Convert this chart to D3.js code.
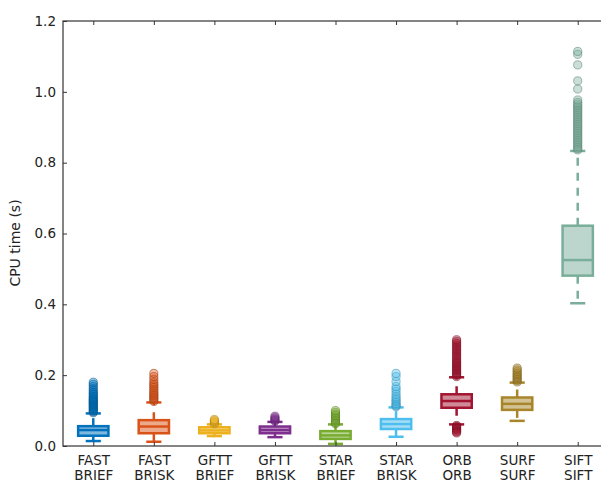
<!DOCTYPE html>
<html><head><meta charset="utf-8">
<script src="https://cdn.jsdelivr.net/npm/d3@7"></script>
<style>body{margin:0;background:#fff}svg{display:block}text{font-family:"DejaVu Sans",sans-serif}</style>
</head><body><svg id="c" width="601" height="483"></svg>
<script>
const categories = ["FAST\nBRIEF","FAST\nBRISK","GFTT\nBRIEF","GFTT\nBRISK","STAR\nBRIEF","STAR\nBRISK","ORB\nORB","SURF\nSURF","SIFT\nSIFT"];
const colors = ["#0072bd","#d95319","#edb120","#7e2f8e","#77ac30","#4dbeee","#a2142f","#a8852a","#7aae9b"];
const whiskerLow = [0.014,0.012,0.028,0.025,0.006,0.026,0.061,0.071,0.403];
const q1 =         [0.029,0.036,0.036,0.036,0.020,0.048,0.108,0.102,0.481];
const medians =    [0.045,0.055,0.044,0.045,0.030,0.062,0.127,0.119,0.525];
const q3 =         [0.056,0.073,0.053,0.055,0.042,0.076,0.146,0.137,0.622];
const whiskerHigh =[0.092,0.123,0.061,0.068,0.061,0.109,0.194,0.179,0.833];
const fliers = [
  [0.094,0.097,0.1,0.103,0.106,0.109,0.112,0.115,0.118,0.121,0.124,0.127,0.13,0.133,0.136,0.14,0.144,0.148,0.152,0.157,0.162,0.168,0.174,0.18],
  [0.126,0.13,0.134,0.138,0.142,0.146,0.15,0.155,0.16,0.165,0.17,0.175,0.18,0.188,0.196,0.205],
  [0.063,0.066,0.069,0.072,0.075],
  [0.07,0.073,0.076,0.08,0.084],
  [0.063,0.066,0.07,0.074,0.078,0.082,0.086,0.09,0.095,0.1],
  [0.111,0.114,0.116,0.12,0.125,0.129,0.134,0.139,0.146,0.154,0.161,0.168,0.182,0.196,0.205],
  [0.196,0.2,0.204,0.208,0.212,0.216,0.22,0.224,0.228,0.232,0.236,0.24,0.245,0.25,0.255,0.26,0.265,0.27,0.275,0.28,0.285,0.29,0.295,0.3,0.058,0.055,0.052,0.049,0.046,0.043,0.04,0.037],
  [0.181,0.185,0.189,0.193,0.197,0.201,0.205,0.21,0.215,0.22],
  [0.836,0.84,0.845,0.85,0.855,0.86,0.865,0.87,0.875,0.88,0.885,0.89,0.895,0.9,0.905,0.91,0.915,0.92,0.925,0.93,0.935,0.94,0.945,0.95,0.955,0.96,0.965,0.97,0.977,1.008,1.031,1.076,1.106,1.114]
];
const yTicks = [0.0,0.2,0.4,0.6,0.8,1.0,1.2];

const svg = d3.select("#c");
const L=63, R=608, T=21, B=446;
const x = d3.scalePoint().domain(categories).range([L,R]).padding(0.5);
const y = d3.scaleLinear().domain([0,1.2]).range([B,T]);
const bw = x.step()*0.5;

const g = svg.append("g");
categories.forEach((c,i)=>{
  const cx = x(c), col = colors[i];
  const dark = d3.color(col).darker(0.8).formatHex();
  const gg = g.append("g");
  [[q3[i],whiskerHigh[i]],[q1[i],whiskerLow[i]]].forEach(([a,b])=>{
    gg.append("line").attr("x1",cx).attr("x2",cx).attr("y1",y(a)).attr("y2",y(b))
      .attr("stroke",col).attr("stroke-width",2.5).attr("stroke-dasharray","8,7");
    gg.append("line").attr("x1",cx-bw/4).attr("x2",cx+bw/4).attr("y1",y(b)).attr("y2",y(b))
      .attr("stroke",col).attr("stroke-width",2.5);
  });
  gg.append("rect").attr("x",cx-bw/2).attr("width",bw).attr("y",y(q3[i])).attr("height",y(q1[i])-y(q3[i]))
    .attr("fill",col).attr("fill-opacity",0.5).attr("stroke",col).attr("stroke-width",2.5);
  gg.append("line").attr("x1",cx-bw/2).attr("x2",cx+bw/2).attr("y1",y(medians[i])).attr("y2",y(medians[i]))
    .attr("stroke",col).attr("stroke-width",2.5);
  gg.selectAll("circle").data(fliers[i]).join("circle")
    .attr("cx",cx).attr("cy",d=>y(d)).attr("r",4.1)
    .attr("fill",col).attr("fill-opacity",0.4)
    .attr("stroke",dark).attr("stroke-opacity",0.55).attr("stroke-width",1);
});

const axCol="#333";
const xb = svg.append("g").attr("transform",`translate(0,${B})`)
  .call(d3.axisBottom(x).tickSize(-4).tickPadding(6).tickFormat(""));
xb.selectAll(".tick").append("text").attr("fill","#222").attr("font-size",13.5).attr("text-anchor","middle")
  .each(function(d){
    const parts=d.split("\n");
    const t=d3.select(this);
    t.append("tspan").attr("x",0).attr("y",19).text(parts[0]);
    t.append("tspan").attr("x",0).attr("y",34).text(parts[1]);
  });
svg.append("g").attr("transform",`translate(0,${T})`)
  .call(d3.axisTop(x).tickSize(-4).tickFormat(""));
const yl = svg.append("g").attr("transform",`translate(${L},0)`)
  .call(d3.axisLeft(y).tickValues(yTicks).tickSize(-4).tickPadding(7).tickFormat(d3.format(".1f")));
yl.selectAll("text").attr("font-size",13.5).attr("fill","#222").attr("font-family","DejaVu Sans");
svg.append("g").attr("transform",`translate(${R},0)`)
  .call(d3.axisRight(y).tickValues(yTicks).tickSize(-4).tickFormat(""));
svg.selectAll(".tick line").attr("stroke",axCol);
svg.selectAll(".domain").remove();
svg.append("rect").attr("x",L).attr("y",T).attr("width",R-L).attr("height",B-T)
  .attr("fill","none").attr("stroke",axCol).attr("stroke-width",1.2);

svg.append("text").attr("transform",`translate(20,243) rotate(-90)`).attr("text-anchor","middle")
  .attr("font-size",14).attr("fill","#222").text("CPU time (s)");
</script></body></html>
